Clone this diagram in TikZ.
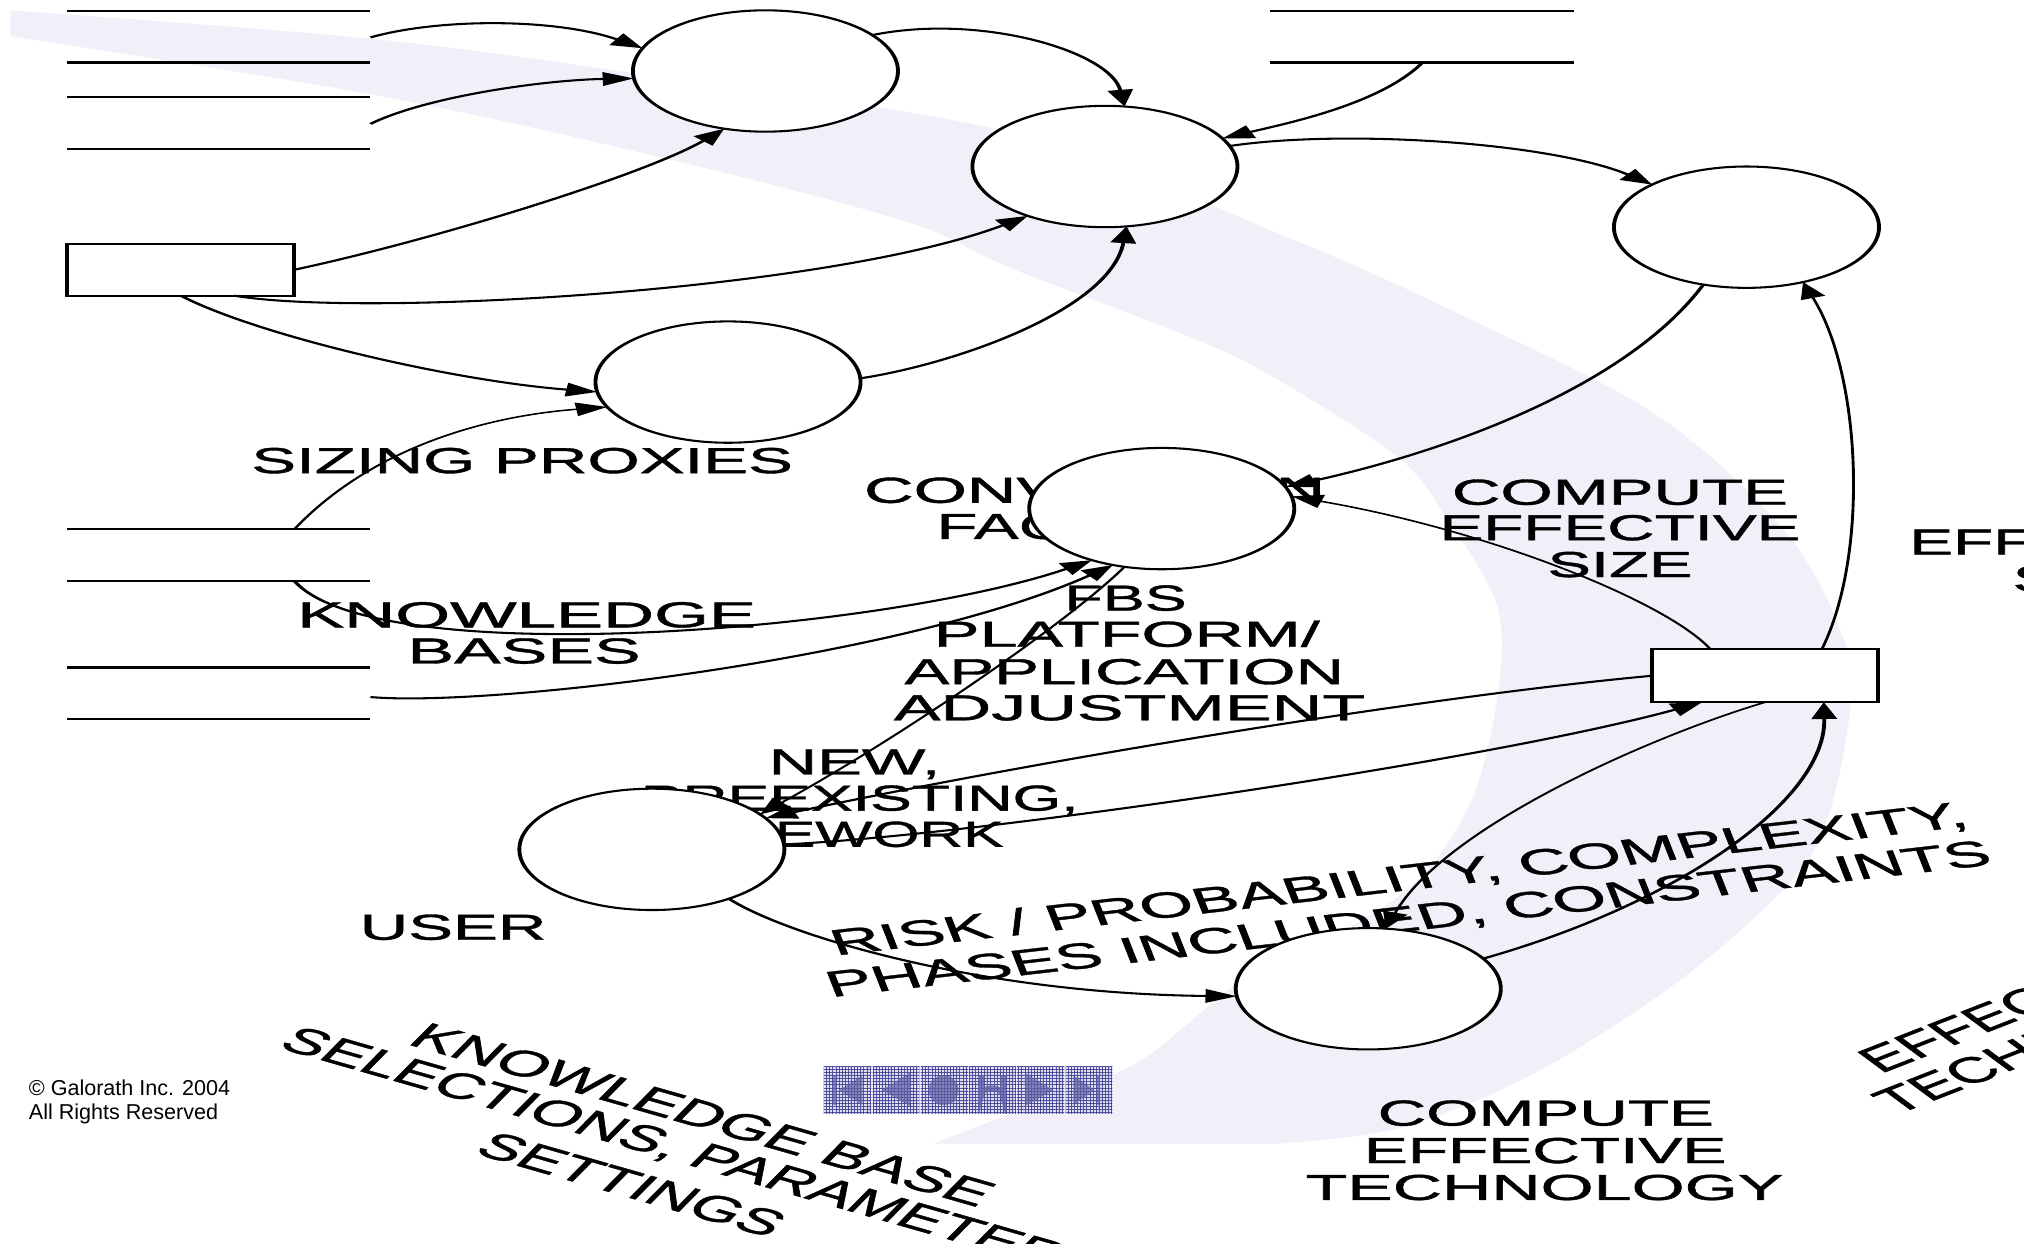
\documentclass[tikz,border=0pt]{standalone}
\usepackage{fontspec}
\setmainfont{Liberation Sans}
\newfontfamily\lblfont{Liberation Sans}[FakeBold=1.0]
\usetikzlibrary{arrows.meta,shapes.geometric}
\definecolor{bandlav}{RGB}{241,239,248}
\definecolor{navbase}{RGB}{222,222,240}
\definecolor{navline}{RGB}{62,62,145}
\definecolor{navicon}{RGB}{95,95,165}

\begin{document}
\begin{tikzpicture}[x=0.5pt,y=-0.5pt]
\useasboundingbox (0,0) rectangle (1568,963);
\fill[white] (0,0) rectangle (1568,963);

% soft swoosh behind the flow
\fill[bandlav] plot[smooth, tension=0.55] coordinates {(8,8) (287,30) (500,58) (784,103) (1000,185) (1134,245) (1284,322) (1384,413) (1430,500) (1432,560) (1409,652) (1359,711) (1284,772) (1184,834) (1084,874) (990,886)}
  -- (723,886)
  -- plot[smooth, tension=0.55] coordinates {(723,886) (800,856) (883,822) (959,762) (1040,722) (1100,680) (1140,620) (1160,540) (1160,470) (1120,400) (1084,355) (1000,300) (934,266) (784,208) (700,171) (500,119) (287,73) (8,28)}
  -- cycle;

% the flow diagram, drawn at natural width and stretched sideways
\begin{scope}[transform canvas={xscale=1.86}, x=0.268817pt, y=-0.5pt,
  lbl/.style={font=\lblfont\fontsize{14}{14}\selectfont, inner sep=0pt, outer sep=0pt, anchor=base},
  proc/.style={ellipse, draw, fill=white, line width=0.8pt, minimum width=55.2pt, minimum height=47pt, inner sep=0pt, outer sep=0pt},
  store/.style={rectangle, draw, fill=white, line width=0.8pt, inner sep=0pt, outer sep=0pt, minimum height=20pt},
  storeline/.style={line width=0.9pt},
  flow/.style={line width=0.8pt, -{Triangle[length=6.5pt,width=5.2pt]}},
  flowthin/.style={flow, line width=0.6pt}]

% labels
\node[lbl] (tSizing) at (404.5,366.5) {SIZING PROXIES};
\node[lbl, xscale=1.02] (tConv1) at (848,389.5) {CONVERSION};
\node[lbl] (tConv2) at (848,417.5) {FACTORS};
\node[lbl, xscale=1.05] (tKnow1) at (408,486) {KNOWLEDGE};
\node[lbl, xscale=1.04] (tKnow2) at (406,514) {BASES};
\node[lbl] (tCes1) at (1255,391) {COMPUTE};
\node[lbl, xscale=0.976] (tCes2) at (1255,418.5) {EFFECTIVE};
\node[lbl, xscale=0.97] (tCes3) at (1255,447) {SIZE};
\node[lbl, xscale=0.976] (tEs1) at (1619,429.6) {EFFECTIVE};
\node[lbl] (tEs2) at (1617,458) {SIZE};
\node[lbl, xscale=0.935] (tFbs1) at (872,473) {FBS};
\node[lbl, xscale=1.016] (tFbs2) at (873,501) {PLATFORM/};
\node[lbl] (tFbs3) at (871,530) {APPLICATION};
\node[lbl, xscale=1.043] (tFbs4) at (875,558) {ADJUSTMENT};
\node[lbl] (tNew1) at (662,600) {NEW,};
\node[lbl, xscale=0.93] (tNew2) at (666,628) {PREEXISTING,};
\node[lbl, xscale=0.9] (tNew3) at (672,656) {REWORK};
\node[lbl] (tUser) at (351,728) {USER};
\node[lbl] (tCet1) at (1197.5,872) {COMPUTE};
\node[lbl, xscale=0.98] (tCet2) at (1197,901) {EFFECTIVE};
\node[lbl, xscale=1.015] (tCet3) at (1196.5,929.6) {TECHNOLOGY};
\node[lbl, rotate=12, xscale=1.03] (tRisk1) at (1087,690) {RISK / PROBABILITY, COMPLEXITY,};
\node[lbl, rotate=12, xscale=1.03] (tRisk2) at (1094.5,721) {PHASES INCLUDED, CONSTRAINTS};
\node[lbl, rotate=-28, xscale=1.02] (tKb1) at (536,872) {KNOWLEDGE BASE};
\node[lbl, rotate=-28] (tKb2) at (514,897) {SELECTIONS, PARAMETER};
\node[lbl, rotate=-28] (tKb3) at (481,926) {SETTINGS};
\node[lbl, rotate=36, anchor=base west] (tEt1) at (1457,832) {EFFECTIVE};
\node[lbl, rotate=36, anchor=base west] (tEt2) at (1469,864) {TECHNOLOGY};

% data stores (open-ended pairs of lines)
\draw[storeline] (52,8.6) -- (287,8.6);
\draw[storeline] (52,48.5) -- (287,48.5);
\draw[storeline] (52,75) -- (287,75);
\draw[storeline] (52,115.6) -- (287,115.6);
\draw[storeline] (52,410) -- (287,410);
\draw[storeline] (52,450) -- (287,450);
\draw[storeline] (52,517) -- (287,517);
\draw[storeline] (52,557) -- (287,557);
\draw[storeline] (984,8.6) -- (1219,8.6);
\draw[storeline] (984,48.5) -- (1219,48.5);
\coordinate (s1) at (287,29);
\coordinate (s2) at (287,96);
\coordinate (s3) at (228,410);
\coordinate (s4) at (228,450);
\coordinate (s5) at (1102,48.5);
\coordinate (s6) at (287,540);

% processes and terminators
\node[proc] (E1) at (593,55) {};
\node[proc] (E2) at (856,129) {};
\node[proc] (E3) at (1353,176) {};
\node[proc] (E4) at (564,296) {};
\node[proc] (E5) at (900,394) {};
\node[proc] (E6) at (505,658) {};
\node[proc] (E7) at (1060,766) {};
\node[store, minimum width=47.31pt] (R1) at (140,209) {};
\node[store, minimum width=47.04pt, minimum height=20.5pt] (R2) at (1367.5,523.5) {};

% flows
\draw[flow] (s1) .. controls (340,14) and (430,14) .. (E1.161);
\draw[flow] (s2) .. controls (330,75) and (420,62) .. (E1.186);
\draw[flow] (R1.east) .. controls (340,185) and (500,135) .. (E1.249);
\draw[flow] (R1.318) .. controls (280,246) and (640,226) .. (E2.230);
\draw[flow] (R1.south) .. controls (200,260) and (350,295) .. (E4.188);
\draw[flow] (E4.3) .. controls (740,282) and (860,240) .. (E2.281);
\draw[flow] (E1.32) .. controls (760,10) and (860,40) .. (E2.80);
\draw[flow] (s5) .. controls (1070,80) and (1000,95) .. (E2.24);
\draw[flow] (E2.17) .. controls (1040,100) and (1200,110) .. (E3.140);
\draw[flow] (E3.248) .. controls (1260,300) and (1120,350) .. (E5.18);
\draw[flowthin] (R2.138) .. controls (1290,465) and (1150,410) .. (E5.10);
\draw[flowthin] (R2.41) .. controls (1448,430) and (1442,290) .. (E3.299);
\draw[flowthin] (s3) .. controls (290,345) and (380,322) .. (E4.201);
\draw[flow] (s4) .. controls (290,520) and (680,490) .. (E5.234);
\draw[flow] (s6) .. controls (380,548) and (700,510) .. (E5.245);
\draw[flowthin] (E5.251) .. controls (830,480) and (700,570) .. (E6.31);
\draw[flow] (R2.west) .. controls (1100,540) and (800,590) .. (E6.27);
\draw[flow] (E6.4) .. controls (750,648) and (1150,590) .. (R2.218);
\draw[flow] (E6.310) .. controls (610,725) and (760,770) .. (E7.186);
\draw[flowthin] (R2.south) .. controls (1280,570) and (1120,640) .. (E7.81);
\draw[flow] (E7.26) .. controls (1300,700) and (1415,620) .. (R2.320);
\end{scope}

% navigation buttons
\begin{scope}
\fill[navbase] (638,826) rectangle (862.4,863);
\clip (638,826) rectangle (862.4,863);
\foreach \gx in {0,...,94} \draw[navline, line width=0.3pt, opacity=0.85] ({638+\gx*2.4},826) -- ({638+\gx*2.4},863);
\foreach \gy in {0,...,16} \draw[navline, line width=0.3pt, opacity=0.85] (638,{826+\gy*2.4}) -- (862.4,{826+\gy*2.4});
\foreach \bx in {638,675.4,712.8,750.2,787.6,825,862.4} \draw[white, line width=0.6pt, opacity=0.6] (\bx,826) -- (\bx,863);
\fill[navicon, opacity=0.7] (645,833) rectangle (647.5,856);
\fill[navicon, opacity=0.7] (650,844.5) -- (668,833) -- (668,856) -- cycle;
\fill[navicon, opacity=0.7] (683,844.5) -- (705,831) -- (705,857) -- cycle;
\fill[navicon, opacity=0.7] (731,844.5) circle[x radius=11.6, y radius=11.6];
\draw[navicon, opacity=0.8, line width=2.2pt] (760,833) -- (760,849) arc[start angle=180, end angle=360, x radius=8.5, y radius=6] -- (777,833);
\fill[navicon, opacity=0.7] (816,844.5) -- (794,831) -- (794,857) -- cycle;
\fill[navicon, opacity=0.7] (848,844.5) -- (831.5,833) -- (831.5,856) -- cycle;
\fill[navicon, opacity=0.7] (850,833) rectangle (852.5,856);
\end{scope}

% copyright notice
\node[font=\fontsize{8.35}{10}\selectfont, anchor=base west, inner sep=0pt] (copy1) at (22,848.5) {© Galorath Inc. 2004};
\node[font=\fontsize{8.35}{10}\selectfont, anchor=base west, inner sep=0pt] (copy2) at (22,867) {All Rights Reserved};
\end{tikzpicture}
\end{document}
